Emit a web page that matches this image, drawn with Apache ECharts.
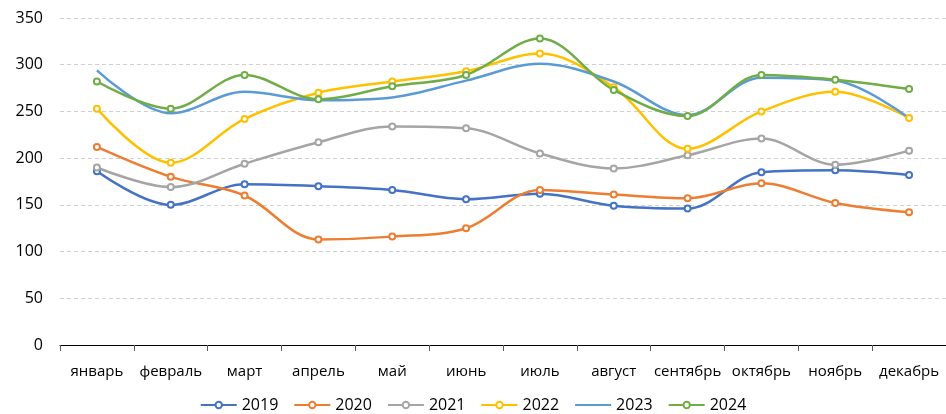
<!DOCTYPE html>
<html>
<head>
<meta charset="utf-8">
<script src="https://cdn.jsdelivr.net/npm/echarts@6/dist/echarts.min.js"></script>
<style>
  html, body { margin: 0; padding: 0; background: #fff; }
  #chart { width: 946px; height: 414px; }
</style>
</head>
<body>
<div id="chart"></div>
<script>
var months = ['январь', 'февраль', 'март', 'апрель', 'май', 'июнь', 'июль', 'август', 'сентябрь', 'октябрь', 'ноябрь', 'декабрь'];
var y2019 = [186, 150, 172, 170, 166, 156, 162, 149, 146, 185, 187, 182];
var y2020 = [212, 180, 160, 113, 116, 125, 166, 161, 157, 173, 152, 142];
var y2021 = [190, 169, 194, 217, 234, 232, 205, 189, 203, 221, 193, 208];
var y2022 = [253, 195, 242, 270, 282, 293, 312, 276, 210, 250, 271, 243];
var y2023 = [294, 248, 271, 262, 265, 283, 301, 282, 246, 286, 283, 243];
var y2024 = [282, 253, 289, 263, 277, 289, 328, 273, 245, 289, 284, 274];

var font = 'Open Sans';

function line(name, data, color, marker) {
    return {
        name: name,
        type: 'line',
        data: data,
        smooth: 0.35,
        symbol: marker ? 'emptyCircle' : 'none',
        symbolSize: 6,
        showSymbol: marker,
        lineStyle: { width: 2.5, color: color },
        itemStyle: { color: color, borderWidth: 1.5 },
        z: 2
    };
}

var chart = echarts.init(document.getElementById('chart'));
chart.setOption({
    animation: false,
    textStyle: { fontFamily: font },
    grid: { left: 60, right: 0, top: 18, bottom: 69, containLabel: false },
    legend: {
        bottom: -4,
        left: 'center',
        itemWidth: 36,
        itemHeight: 8,
        itemGap: 15,
        textStyle: { fontSize: 16, color: '#000', fontFamily: font },
        data: ['2019', '2020', '2021', '2022', { name: '2023', itemStyle: { opacity: 0 } }, '2024']
    },
    xAxis: {
        type: 'category',
        data: months,
        boundaryGap: true,
        axisLine: { lineStyle: { color: '#000', width: 1 } },
        axisTick: { show: true, length: 6, lineStyle: { color: '#595959' } },
        axisLabel: { color: '#000', fontSize: 15, margin: 19, interval: 0 }
    },
    yAxis: {
        type: 'value',
        min: 0,
        max: 350,
        interval: 50,
        axisLine: { show: false },
        axisTick: { show: false },
        axisLabel: { color: '#000', fontSize: 16, margin: 17 },
        splitLine: { lineStyle: { color: '#D0D0D0', type: [4, 3] } }
    },
    series: [
        line('2019', y2019, '#4472C4', true),
        line('2020', y2020, '#ED7D31', true),
        line('2021', y2021, '#A5A5A5', true),
        line('2022', y2022, '#FFC000', true),
        line('2023', y2023, '#5B9BD5', false),
        line('2024', y2024, '#70AD47', true)
    ]
});
</script>
</body>
</html>
